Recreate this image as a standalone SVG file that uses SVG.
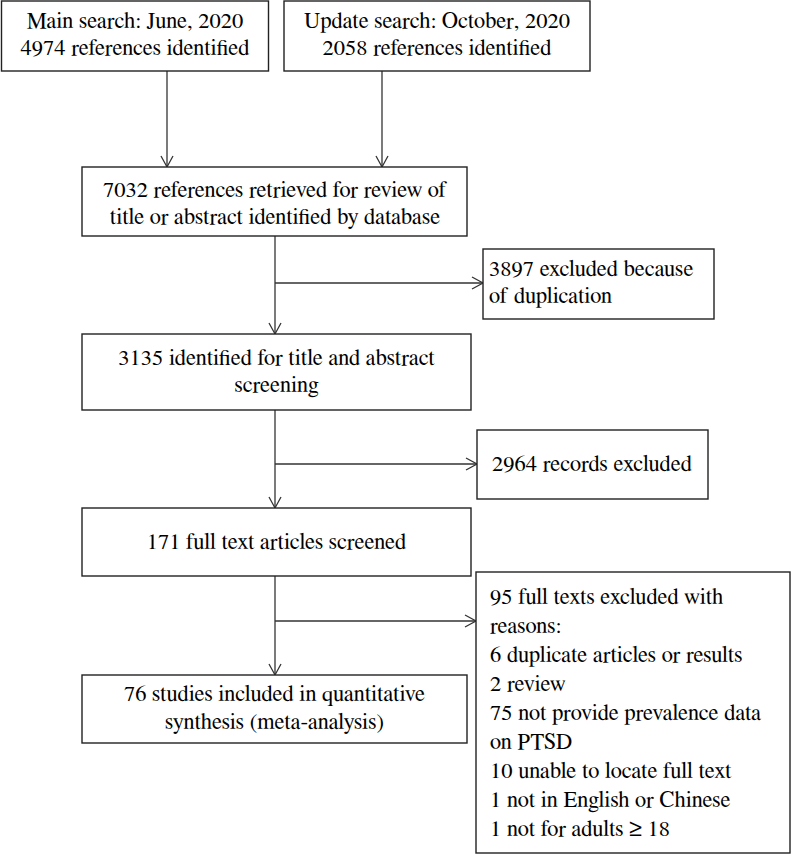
<svg xmlns="http://www.w3.org/2000/svg" width="792" height="855" viewBox="0 0 792 855">
<style>
.box{fill:#fff;stroke:#222;stroke-width:1.4}
text{font-family:FreeSerif,"Liberation Serif","DejaVu Serif",serif;font-size:22.5px;fill:#000}
.c{text-anchor:middle}
.ln{fill:none;stroke:#333;stroke-width:1.3}
</style>
<defs>
<marker id="arr" markerWidth="14" markerHeight="14" refX="12" refY="7" orient="auto" markerUnits="userSpaceOnUse">
<path d="M1,1 L12,7 L1,13" fill="none" stroke="#333" stroke-width="1.3"/>
</marker>
</defs>
<rect width="792" height="855" fill="#fff"/>
<g id="connectors">
<line class="ln" x1="167" y1="71" x2="167" y2="167" marker-end="url(#arr)"/>
<line class="ln" x1="382" y1="71" x2="382" y2="167" marker-end="url(#arr)"/>
<line class="ln" x1="275" y1="236" x2="275" y2="334" marker-end="url(#arr)"/>
<line class="ln" x1="275" y1="283" x2="483" y2="283" marker-end="url(#arr)"/>
<line class="ln" x1="275" y1="410" x2="275" y2="508" marker-end="url(#arr)"/>
<line class="ln" x1="275" y1="464" x2="477" y2="464" marker-end="url(#arr)"/>
<line class="ln" x1="275" y1="576" x2="275" y2="675" marker-end="url(#arr)"/>
<line class="ln" x1="275" y1="621" x2="476" y2="621" marker-end="url(#arr)"/>
</g>
<g id="main-search">
<rect class="box" x="1.5" y="1" width="267" height="70"/>
<text class="c" x="135" y="28">Main search: June, 2020</text>
<text class="c" x="135" y="55">4974 references identified</text>
</g>
<g id="update-search">
<rect class="box" x="284" y="1" width="306" height="70"/>
<text class="c" x="437" y="28">Update search: October, 2020</text>
<text class="c" x="437" y="55">2058 references identified</text>
</g>
<g id="retrieved">
<rect class="box" x="82" y="167" width="385" height="69"/>
<text class="c" x="275" y="197">7032 references retrieved for review of</text>
<text class="c" x="275" y="224">title or abstract identified by database</text>
</g>
<g id="duplication">
<rect class="box" x="483" y="249" width="231" height="70"/>
<text x="489" y="276">3897 excluded because</text>
<text x="489" y="303">of duplication</text>
</g>
<g id="identified">
<rect class="box" x="82" y="334" width="389" height="76"/>
<text class="c" x="276.5" y="365">3135 identified for title and abstract</text>
<text class="c" x="276.5" y="392">screening</text>
</g>
<g id="records-excluded">
<rect class="box" x="477" y="430" width="231" height="69"/>
<text class="c" x="592" y="471">2964 records excluded</text>
</g>
<g id="full-text">
<rect class="box" x="82" y="508" width="389" height="68"/>
<text class="c" x="276.5" y="549">171 full text articles screened</text>
</g>
<g id="included">
<rect class="box" x="82" y="675" width="385" height="68"/>
<text class="c" x="274.5" y="701">76 studies included in quantitative</text>
<text class="c" x="274.5" y="729">synthesis (meta-analysis)</text>
</g>
<g id="full-excluded">
<rect class="box" x="476" y="572" width="314" height="281"/>
<text x="490" y="604">95 full texts excluded with</text>
<text x="490" y="633">reasons:</text>
<text x="490" y="662">6 duplicate articles or results</text>
<text x="490" y="691">2 review</text>
<text x="490" y="720">75 not provide prevalence data</text>
<text x="490" y="749">on PTSD</text>
<text x="490" y="778">10 unable to locate full text</text>
<text x="490" y="807">1 not in English or Chinese</text>
<text x="490" y="836">1 not for adults ≥ 18</text>
</g>
</svg>
